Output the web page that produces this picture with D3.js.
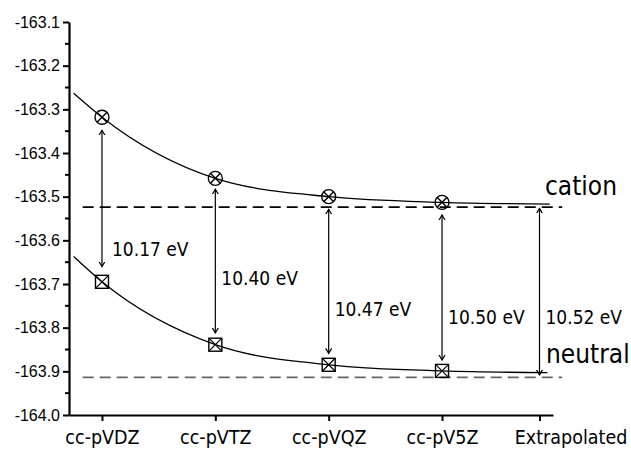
<!DOCTYPE html>
<html>
<head>
<meta charset="utf-8">
<script src="https://cdn.jsdelivr.net/npm/d3@7"></script>
<style>
  body { margin: 0; background: #fff; }
  .lbl { font-family: "DejaVu Sans", Verdana, sans-serif; font-stretch: condensed; }
</style>
</head>
<body>
<div id="chart"></div>
<script>
const basisSets = ["cc-pVDZ", "cc-pVTZ", "cc-pVQZ", "cc-pV5Z", "Extrapolated"];
const basisPos = [2, 3, 4, 5, 5.86];
const yTicks = [-163.1, -163.2, -163.3, -163.4, -163.5, -163.6, -163.7, -163.8, -163.9, -164.0];

const cationEnergy = [-163.318, -163.458, -163.500, -163.513];
const neutralEnergy = [-163.695, -163.839, -163.885, -163.899];

// fitted curves
const cationFitX = [1.75, 2, 3, 4, 5, 5.95];
const cationFitY = [-163.263, -163.318, -163.458, -163.500, -163.513, -163.517];
const neutralFitX = [1.75, 2, 3, 4, 5, 5.93];
const neutralFitY = [-163.637, -163.695, -163.839, -163.885, -163.899, -163.903];

const cationLimit = -163.524;
const neutralLimit = -163.914;
const limitSpan = [1.83, 6.06];

const gapLabels = ["10.17 eV", "10.40 eV", "10.47 eV", "10.50 eV", "10.52 eV"];
const arrowTop = [-163.348, -163.483, -163.529, -163.542, -163.527];
const arrowBottom = [-163.660, -163.812, -163.859, -163.874, -163.908];
const labelY = [-163.637, -163.702, -163.773, -163.792, -163.792];

const width = 631;
const height = 452;

const x = d3.scaleLinear().domain([1.709, 5.979]).range([69, 553]);
const y = d3.scaleLinear().domain([-164.0, -163.1]).range([415, 22]);

const svg = d3.select("#chart").append("svg")
    .attr("width", width)
    .attr("height", height);

const defs = svg.append("defs");
defs.append("marker")
    .attr("id", "arrowHead")
    .attr("markerUnits", "userSpaceOnUse")
    .attr("viewBox", "-5 -5 10 10")
    .attr("refX", 0)
    .attr("refY", 0)
    .attr("markerWidth", 10)
    .attr("markerHeight", 10)
    .attr("orient", "auto-start-reverse")
    .append("path")
    .attr("d", "M-5,-3L0,0L-5,3")
    .attr("fill", "none")
    .attr("stroke", "#000")
    .attr("stroke-width", 1.2);

// axes
const yAxis = d3.axisLeft(y)
    .tickValues(yTicks)
    .tickFormat(d => d.toFixed(1))
    .tickSize(6)
    .tickSizeOuter(0);

const yAxisG = svg.append("g")
    .attr("transform", "translate(69,0)")
    .call(yAxis);

yAxisG.select(".domain").attr("stroke-width", 2.2);
yAxisG.selectAll(".tick line").attr("stroke-width", 2);
yAxisG.selectAll(".tick text")
    .attr("x", -9)
    .style("font-family", "Arial, 'Liberation Sans', sans-serif")
    .style("font-size", "16px")
    .attr("fill", "#000");

// minor ticks on y
const minorTicks = yTicks.slice(1).map(v => v + 0.05);
svg.append("g").selectAll("line")
    .data(minorTicks)
    .join("line")
    .attr("x1", 65)
    .attr("x2", 69)
    .attr("y1", d => y(d))
    .attr("y2", d => y(d))
    .attr("stroke", "#000")
    .attr("stroke-width", 2);

const xAxis = d3.axisBottom(x)
    .tickValues(basisPos)
    .tickFormat((d, i) => basisSets[i])
    .tickSize(6)
    .tickSizeOuter(0);

const xAxisG = svg.append("g")
    .attr("transform", "translate(0,415)")
    .call(xAxis);

xAxisG.select(".domain").attr("stroke-width", 2.2);
xAxisG.selectAll(".tick line").attr("stroke-width", 2);
xAxisG.selectAll(".tick text")
    .attr("class", "lbl")
    .attr("y", 15)
    .attr("dy", "0.71em")
    .attr("dx", (d, i) => i === basisSets.length - 1 ? 31 : 0)
    .style("font-size", "19.5px")
    .attr("fill", "#000");

// limit lines
svg.append("line")
    .attr("x1", x(limitSpan[0]))
    .attr("x2", x(limitSpan[1]))
    .attr("y1", y(cationLimit))
    .attr("y2", y(cationLimit))
    .attr("stroke", "#000")
    .attr("stroke-width", 1.8)
    .attr("stroke-dasharray", "11,6");

svg.append("line")
    .attr("x1", x(limitSpan[0]))
    .attr("x2", x(limitSpan[1]))
    .attr("y1", y(neutralLimit))
    .attr("y2", y(neutralLimit))
    .attr("stroke", "#666")
    .attr("stroke-width", 1.8)
    .attr("stroke-dasharray", "11,6");

// fitted curves
const line = d3.line()
    .x(d => x(d[0]))
    .y(d => y(d[1]))
    .curve(d3.curveMonotoneX);

svg.append("path")
    .attr("d", line(d3.zip(cationFitX, cationFitY)))
    .attr("fill", "none")
    .attr("stroke", "#000")
    .attr("stroke-width", 1.3);

svg.append("path")
    .attr("d", line(d3.zip(neutralFitX, neutralFitY)))
    .attr("fill", "none")
    .attr("stroke", "#000")
    .attr("stroke-width", 1.3);

// gap arrows
svg.append("g").selectAll("line")
    .data(basisPos)
    .join("line")
    .attr("x1", d => x(d))
    .attr("x2", d => x(d))
    .attr("y1", (d, i) => y(arrowTop[i]))
    .attr("y2", (d, i) => y(arrowBottom[i]))
    .attr("stroke", "#000")
    .attr("stroke-width", 1.2)
    .attr("marker-start", "url(#arrowHead)")
    .attr("marker-end", "url(#arrowHead)");

svg.append("g").selectAll("text")
    .data(gapLabels)
    .join("text")
    .attr("class", "lbl")
    .attr("x", (d, i) => x(basisPos[i]) + (i === 0 ? 10 : 6))
    .attr("y", (d, i) => y(labelY[i]))
    .style("font-size", "19px")
    .text(d => d);

// markers
const cation = svg.append("g").selectAll("g")
    .data(cationEnergy)
    .join("g")
    .attr("transform", (d, i) => `translate(${x(basisPos[i])},${y(d)})`);

cation.append("circle")
    .attr("r", 7)
    .attr("fill", "none")
    .attr("stroke", "#000")
    .attr("stroke-width", 1.4);

cation.append("path")
    .attr("d", "M-5,-5L5,5M-5,5L5,-5")
    .attr("stroke", "#000")
    .attr("stroke-width", 1.4);

const neutral = svg.append("g").selectAll("g")
    .data(neutralEnergy)
    .join("g")
    .attr("transform", (d, i) => `translate(${x(basisPos[i])},${y(d)})`);

neutral.append("rect")
    .attr("x", -6.5)
    .attr("y", -6.5)
    .attr("width", 13)
    .attr("height", 13)
    .attr("fill", "none")
    .attr("stroke", "#000")
    .attr("stroke-width", 1.4);

neutral.append("path")
    .attr("d", "M-6.5,-6.5L6.5,6.5M-6.5,6.5L6.5,-6.5")
    .attr("stroke", "#000")
    .attr("stroke-width", 1.2);

// state labels
svg.append("text")
    .attr("class", "lbl")
    .attr("x", 545)
    .attr("y", 195)
    .style("font-size", "26px")
    .text("cation");

svg.append("text")
    .attr("class", "lbl")
    .attr("x", 546)
    .attr("y", 363)
    .style("font-size", "26px")
    .text("neutral");
</script>
</body>
</html>
